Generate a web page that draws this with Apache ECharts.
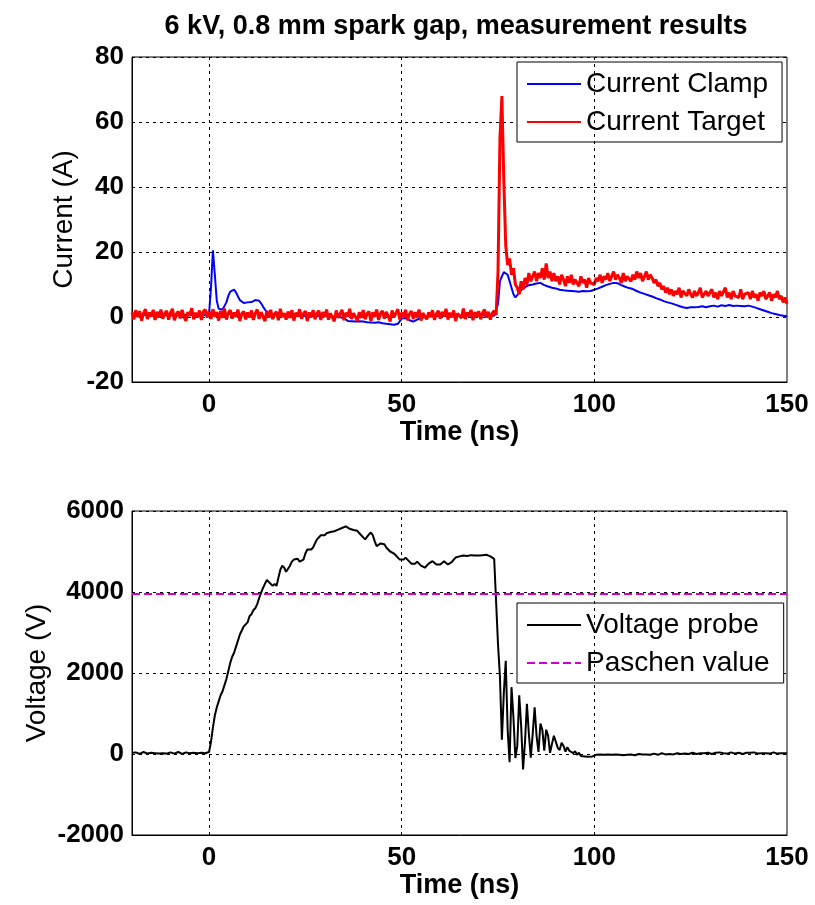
<!DOCTYPE html>
<html>
<head>
<meta charset="utf-8">
<script src="https://cdn.jsdelivr.net/npm/echarts@6/dist/echarts.min.js"></script>
<style>
  html, body { margin: 0; padding: 0; background: #fff; }
  #chart { width: 815px; height: 905px; }
</style>
</head>
<body>
<div id="chart"></div>
<script>
// sample grid: -20 ns .. 150 ns, every 0.5 ns
var tStart = -20, tStep = 0.5;

// Current Clamp (A), one row = 10 ns
var currentClamp = [
  0.6,0.4,0.7,0.5,0.3,0.6,0.8,0.5,0.4,0.6,0.5,0.7,0.4,0.5,0.6,0.3,0.5,0.7,0.6,0.4,
  0.5,0.6,0.4,0.7,0.5,0.3,0.6,0.5,0.7,0.4,0.5,0.6,0.8,0.5,0.4,0.6,0.5,0.3,0.6,0.7,
  1,9,20.5,13,5,2.5,2.2,2.3,2.8,4.5,6.5,7.8,8.3,8.4,7.6,6.3,5.2,4.6,4.3,4.4,
  4.5,4.4,4.6,4.5,5.2,5.6,5.0,4.2,3.2,2.3,1.6,1.1,0.9,0.8,0.7,0.6,0.7,0.5,0.6,0.5,
  0.4,0.6,0.5,0.3,0.5,0.6,0.4,0.5,0.3,0.5,0.4,0.6,0.5,0.4,0.3,0.5,0.4,0.6,0.3,0.4,
  0.3,0.4,0.2,0.3,0.1,0.2,0.0,0.1,-0.1,0.0,-0.3,-0.8,-1.2,-1.4,-1.3,-1.5,-1.4,-1.6,-1.3,-1.5,
  -1.4,-1.5,-1.6,-1.5,-1.7,-1.6,-1.8,-1.7,-1.6,-1.8,-1.9,-2.0,-2.1,-2.0,-2.2,-2.3,-2.4,-2.2,-2.1,-1.5,
  -0.5,0.0,-0.3,-0.6,-1.0,-1.3,-1.4,-1.2,-0.8,-0.5,-0.3,-0.2,0.0,0.1,0.2,0.3,0.2,0.4,0.3,0.2,
  0.3,0.4,0.3,0.5,0.4,0.3,0.5,0.4,0.6,0.5,0.4,0.5,0.3,0.4,0.5,0.6,0.4,0.5,0.3,0.4,
  0.5,0.4,0.6,0.5,0.3,0.4,0.5,0.6,0.4,0.6,4,11,12.5,13.8,14.2,13,11,9,7,6,
  6.5,7.5,8.3,8.8,9.2,9.5,9.8,10.2,10.0,10.5,10.3,10.8,10.5,10.2,9.8,9.6,9.4,9.2,9.0,8.8,
  8.8,8.6,8.4,8.3,8.2,8.0,8.1,7.9,8.0,7.8,7.9,8.0,7.8,7.9,8.0,8.1,7.9,8.2,8.0,8.3,
  8.4,8.6,8.8,9.0,9.3,9.5,9.8,10.0,10.2,10.4,10.5,10.6,10.4,10.1,9.8,9.5,9.3,9.1,8.9,8.8,
  8.6,8.3,8.0,7.7,7.5,7.3,7.1,6.9,6.7,6.5,6.3,6.1,5.8,5.6,5.4,5.1,4.9,4.7,4.5,4.4,
  4.2,4.0,3.8,3.6,3.4,3.2,3.0,2.9,2.8,2.9,3.0,3.1,3.0,2.9,3.1,3.2,3.3,3.1,3.0,3.2,
  3.3,3.4,3.5,3.3,3.2,3.4,3.6,3.5,3.4,3.6,3.7,3.5,3.4,3.6,3.5,3.3,3.4,3.5,3.3,3.4,
  3.5,3.4,3.2,3.0,2.8,2.6,2.4,2.2,2.0,1.8,1.6,1.4,1.2,1.0,0.9,0.8,0.6,0.5,0.4,0.3,
  0.2
];

// Current Target (A)
var currentTarget = [
  1.4,-0.7,2.1,0.0,1.8,-1.1,1.2,2.4,-0.6,1.4,0.1,2.2,-0.9,1.6,-0.2,2.3,-0.5,1.1,1.9,-0.8,
  1.3,2.5,-1.0,0.9,1.7,-0.4,2.2,0.0,-1.2,1.5,0.4,2.7,-0.7,1.3,-0.1,2.0,-0.9,1.6,2.3,-0.2,
  1.8,-0.6,2.4,0.1,1.5,-1.1,1.9,-0.3,2.6,-0.8,1.2,2.1,-0.5,1.4,0.0,2.3,-1.2,1.0,1.7,-0.7,
  1.4,-0.1,2.0,-0.9,1.1,2.3,-0.6,1.5,0.2,-1.3,1.9,-0.2,2.2,-0.7,0.9,1.6,-1.0,2.5,0.0,1.2,
  -0.8,1.7,-0.3,2.1,-1.1,1.3,0.1,2.4,-0.5,1.0,1.8,-1.2,1.4,-0.1,2.1,-0.7,1.2,1.9,-0.9,1.5,
  0.0,2.3,-0.8,1.1,1.6,-1.3,2.0,-0.2,0.9,2.2,-1.0,1.3,0.1,2.5,-0.6,1.2,1.8,-1.1,1.5,-0.3,
  2.1,-0.7,1.0,1.7,-1.2,1.4,0.0,2.3,-0.9,1.1,1.9,-0.5,1.6,0.2,-1.4,2.0,-0.1,1.2,2.4,-0.8,
  1.3,0.1,2.2,-1.0,0.9,1.8,-0.6,1.5,-0.2,2.3,-1.1,1.2,1.7,-0.7,1.4,0.0,2.1,-0.9,1.0,1.9,
  -0.5,1.6,0.2,2.5,-0.8,1.3,-0.1,2.0,-1.2,1.1,1.7,-0.3,2.6,-0.6,1.4,0.3,2.2,-1.0,1.5,0.1,
  1.8,-0.7,1.3,2.3,-0.2,1.6,-0.8,1.2,1.9,0.6,14,55,68,42,22,16,18,13,15,10,
  9,7,11,8.5,12,10,13.5,11,12.5,14,11,13.5,12,15,11.5,16.5,12,14,11,13.5,
  11,12.5,10,13,11.5,9.5,12.5,10.5,13,10,11.5,12,9.5,12.5,10.5,11.5,9,12,10.5,11,
  10,12,11,13,10.5,12.5,11.5,13.5,11,12.5,14,11.5,13,12,10.5,13.5,11,12.5,13,11,
  13,11.5,14,12,13.5,11,12.5,14,11.5,13,12,10.5,11.5,9.5,10.5,8.5,9.5,7.5,9,7,
  8.5,6.5,8,7,9,6,8,7.5,6.5,8.5,7,6,8,6.5,7.5,9,6,7,8,6.5,
  7,8.5,6,7.5,5.5,8,6.5,7,9,6,7.5,5.5,8,6.5,7,6,8.5,5.5,7,6.5,
  7.5,5.5,8,6,7,5,7.5,6.5,8,5.5,6.5,7.5,5,7,6,8,5.5,6.5,4.5,6,
  4
];

// Voltage probe (V)
var voltageProbe = [
  30,10,40,20,0,30,50,20,10,40,30,0,20,40,10,30,20,50,10,20,
  40,20,10,30,50,20,0,30,40,10,20,40,30,10,20,50,30,10,20,30,
  50,300,650,950,1150,1300,1450,1550,1700,1850,2050,2250,2400,2500,2650,2800,2950,3050,3150,3200,
  3250,3400,3450,3550,3600,3700,3850,3980,4100,4200,4300,4250,4200,4150,4200,4150,4350,4550,4650,4600,
  4500,4520,4650,4750,4800,4780,4820,4750,4720,4800,4950,5050,5080,5050,5100,5200,5300,5350,5400,5420,
  5400,5450,5430,5480,5460,5500,5480,5540,5520,5580,5600,5620,5590,5560,5570,5530,5500,5510,5450,5400,
  5350,5300,5320,5420,5470,5400,5250,5130,5150,5200,5220,5180,5100,5050,5000,4970,4950,4900,4850,4800,
  4760,4800,4850,4830,4750,4700,4680,4700,4750,4700,4650,4620,4600,4620,4700,4740,4760,4720,4680,4650,
  4680,4720,4760,4740,4680,4690,4740,4800,4850,4860,4880,4890,4900,4900,4890,4900,4910,4900,4900,4910,
  4900,4920,4910,4900,4920,4900,4880,4850,4820,4780,2700,1900,350,1500,2300,600,-200,1650,900,-100,
  200,1450,700,-380,300,1240,500,-90,500,1150,450,50,750,600,80,600,450,30,250,450,
  420,150,100,280,200,60,170,80,120,20,70,-20,30,-50,-30,-60,-40,-70,-50,-60,
  -40,-20,0,-10,10,-20,-30,-10,-40,-20,-30,-10,0,-20,-40,-30,-10,-20,0,-10,
  -20,-30,-10,0,-20,-10,10,-10,-30,-20,0,10,-10,-20,0,20,0,-10,10,0,
  10,-10,0,20,10,0,30,10,20,0,10,30,20,0,10,20,40,20,10,30,
  20,0,10,30,20,40,10,20,30,10,20,40,30,10,20,30,20,0,20,30,
  10,30,20,40,20,10,30,20,0,20,30,10,20,40,20,10,30,20,10,20,
  10
];

var paschenValue = 3950;
var timeGrid = [0, 50, 100];
var timeRange = [-20, 150];

var FONT = 'Liberation Sans, Arial, sans-serif';
var SOLID_ICON = 'path://M0,0H54V2H0Z';
var DASH_ICON = 'path://M0,0H8V2H0Z M12,0H20V2H12Z M24,0H32V2H24Z M36,0H44V2H36Z M48,0H54V2H48Z';

function pairs(values) {
  return values.map(function (v, i) { return [tStart + i * tStep, v]; });
}

function timeAxis(idx) {
  return {
    type: 'value',
    gridIndex: idx,
    min: timeRange[0],
    max: timeRange[1],
    interval: 10,
    name: 'Time (ns)',
    nameLocation: 'middle',
    nameGap: 36,
    nameTextStyle: { fontSize: 27, fontWeight: 'bold', color: '#000', fontFamily: FONT },
    axisLine: { onZero: false, lineStyle: { color: '#000', width: 1 } },
    axisTick: { show: false },
    axisLabel: {
      margin: 10, fontSize: 26, fontWeight: 'bold', color: '#000', fontFamily: FONT,
      formatter: function (v) { return v % 50 === 0 ? String(v) : ''; }
    },
    splitLine: { show: false }
  };
}

function valueAxis(idx, name, min, max, step, gap) {
  return {
    type: 'value',
    gridIndex: idx,
    min: min,
    max: max,
    interval: step,
    name: name,
    nameLocation: 'middle',
    nameGap: gap,
    nameMoveOverlap: false,
    nameTextStyle: { fontSize: 28, color: '#000', fontFamily: FONT },
    axisLine: { onZero: false, lineStyle: { color: '#000', width: 1 } },
    axisTick: { show: false },
    axisLabel: {
      margin: 8, fontSize: 26, fontWeight: 'bold', color: '#000', fontFamily: FONT,
      formatter: function (v) { return String(v); }
    },
    splitLine: { show: true, lineStyle: { color: '#000', type: [3, 4], width: 1 } }
  };
}

// vertical dashed grid lines at 0, 50, 100 ns
function gridLines(idx) {
  return {
    type: 'line',
    xAxisIndex: idx,
    yAxisIndex: idx,
    data: [],
    silent: true,
    z: 1,
    markLine: {
      silent: true,
      symbol: ['none', 'none'],
      label: { show: false },
      lineStyle: { color: '#000', type: [3, 4], width: 1 },
      data: timeGrid.map(function (t) { return { xAxis: t }; })
    }
  };
}

function legendBox(top, items) {
  return {
    data: items,
    orient: 'vertical',
    left: 517,
    top: top,
    padding: [8, 14, 6, 10],
    itemGap: 10,
    itemWidth: 54,
    itemHeight: 14,
    backgroundColor: '#fff',
    borderColor: '#000',
    borderWidth: 1,
    borderRadius: 0,
    textStyle: { fontSize: 28, color: '#000', fontFamily: FONT }
  };
}

var chart = echarts.init(document.getElementById('chart'));
var option = {
  animation: false,
  backgroundColor: '#fff',
  title: {
    text: '6 kV, 0.8 mm spark gap, measurement results',
    left: 451,
    top: 8,
    textAlign: 'center',
    textStyle: { fontSize: 27, fontWeight: 'bold', color: '#000', fontFamily: FONT }
  },
  legend: [
    legendBox(62, [
      { name: 'Current Clamp', icon: SOLID_ICON },
      { name: 'Current Target', icon: SOLID_ICON }
    ]),
    legendBox(603, [
      { name: 'Voltage probe', icon: SOLID_ICON },
      { name: 'Paschen value', icon: DASH_ICON }
    ])
  ],
  grid: [
    { left: 132, top: 57, width: 655, height: 325, show: true, borderColor: '#000', borderWidth: 1 },
    { left: 132, top: 511, width: 655, height: 324, show: true, borderColor: '#000', borderWidth: 1 }
  ],
  xAxis: [timeAxis(0), timeAxis(1)],
  yAxis: [
    valueAxis(0, 'Current (A)', -20, 80, 20, 54),
    valueAxis(1, 'Voltage (V)', -2000, 6000, 2000, 81)
  ],
  series: [
    gridLines(0),
    gridLines(1),
    {
      name: 'Current Clamp', type: 'line', xAxisIndex: 0, yAxisIndex: 0,
      data: pairs(currentClamp), symbol: 'none', z: 3,
      lineStyle: { color: '#0000ff', width: 2 }, itemStyle: { color: '#0000ff' }
    },
    {
      name: 'Current Target', type: 'line', xAxisIndex: 0, yAxisIndex: 0,
      data: pairs(currentTarget), symbol: 'none', z: 4,
      lineStyle: { color: '#ff0000', width: 3 }, itemStyle: { color: '#ff0000' }
    },
    {
      name: 'Voltage probe', type: 'line', xAxisIndex: 1, yAxisIndex: 1,
      data: pairs(voltageProbe), symbol: 'none', z: 3,
      lineStyle: { color: '#000', width: 2 }, itemStyle: { color: '#000' }
    },
    {
      name: 'Paschen value', type: 'line', xAxisIndex: 1, yAxisIndex: 1,
      data: [[timeRange[0], paschenValue], [timeRange[1], paschenValue]], symbol: 'none', z: 4,
      lineStyle: { color: '#d000d0', width: 2, type: [8, 4] }, itemStyle: { color: '#d000d0' }
    }
  ]
};
chart.setOption(option);
</script>
</body>
</html>
